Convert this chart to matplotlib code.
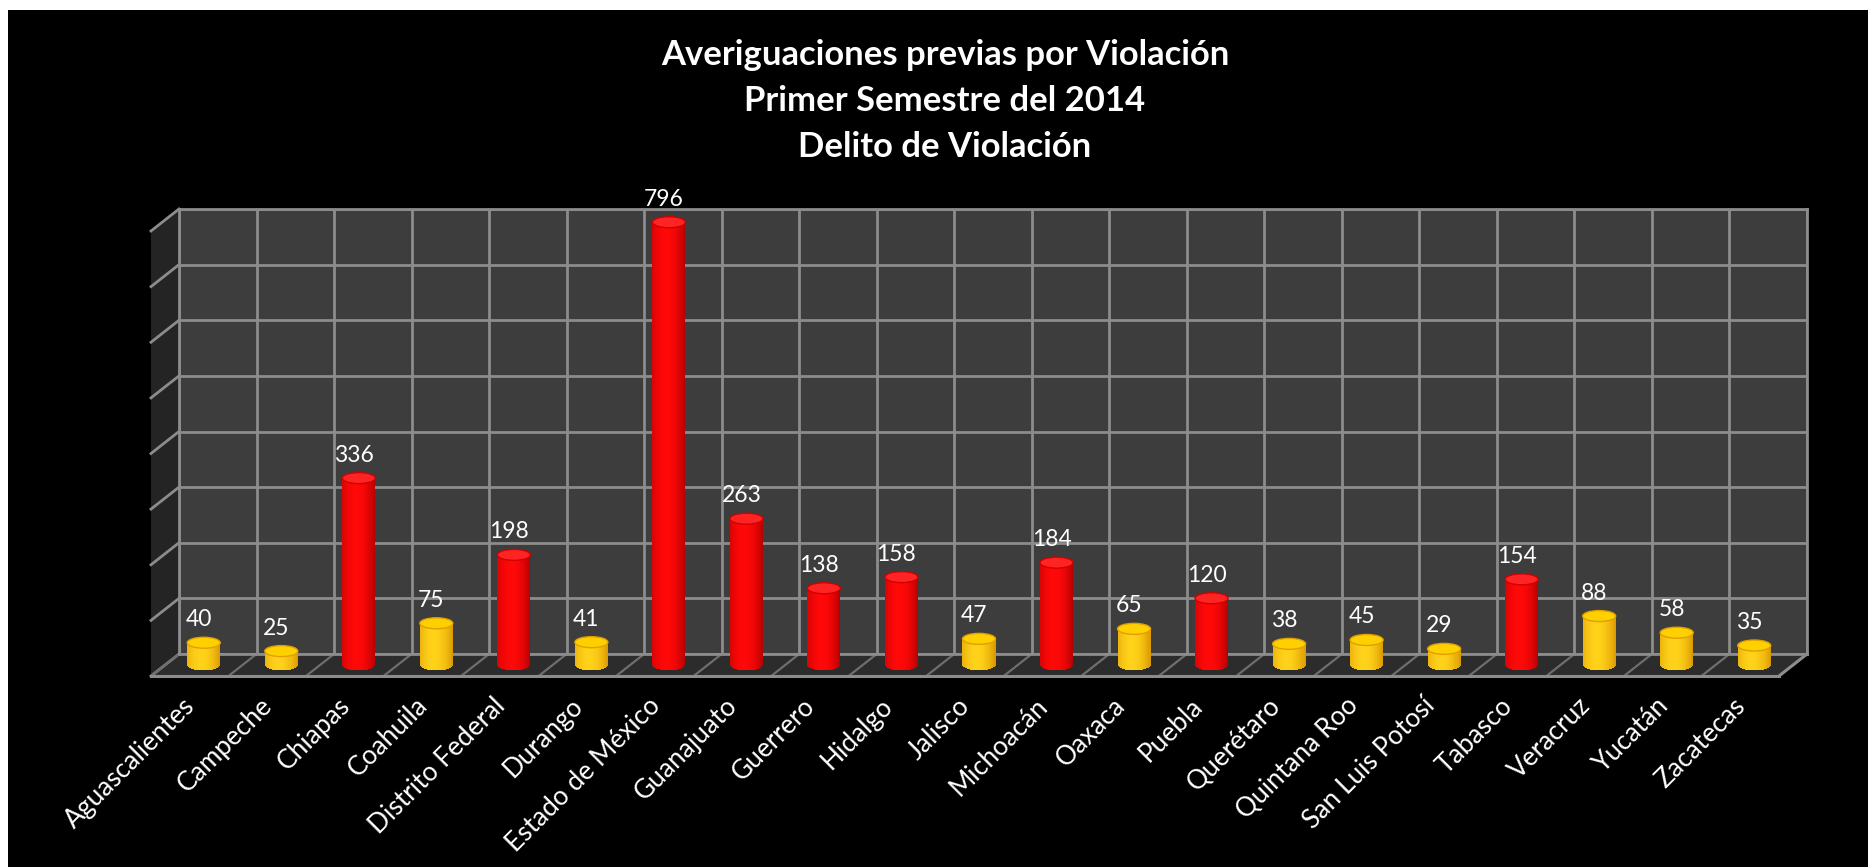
import numpy as np
import matplotlib
matplotlib.use("Agg")
import matplotlib.pyplot as plt
from matplotlib.patches import Rectangle, Polygon, Ellipse
from matplotlib.transforms import offset_copy, IdentityTransform
from matplotlib.lines import Line2D
from matplotlib.colors import to_rgb

# ---------------- data ----------------
states = ["Aguascalientes", "Campeche", "Chiapas", "Coahuila", "Distrito Federal",
          "Durango", "Estado de México", "Guanajuato", "Guerrero", "Hidalgo",
          "Jalisco", "Michoacán", "Oaxaca", "Puebla", "Querétaro", "Quintana Roo",
          "San Luis Potosí", "Tabasco", "Veracruz", "Yucatán", "Zacatecas"]
values = [40, 25, 336, 75, 198, 41, 796, 263, 138, 158, 47, 184, 65, 120, 38,
          45, 29, 154, 88, 58, 35]
title_lines = ["Averiguaciones previas por Violación",
               "Primer Semestre del 2014",
               "Delito de Violación"]
y_max = 800
y_step = 100
threshold = 100

FONT = ["Lato", "DejaVu Sans"]

# ---------------- figure ----------------
W, H, DPI = 1868, 867, 100
fig = plt.figure(figsize=(W / DPI, H / DPI), dpi=DPI, facecolor="white")
fig.patches.append(Rectangle((8 / W, 0), (W - 8) / W, (H - 10) / H,
                             transform=fig.transFigure, facecolor="black",
                             edgecolor="none", zorder=-2))

# back wall (pixels, image coordinates)
L, R, T, B = 179, 1807, 209, 654
DX, DY = -28, -22          # full depth offset (pixels, y up)
ax = fig.add_axes([L / W, (H - B) / H, (R - L) / W, (B - T) / H])
ax.set_zorder(1)
ax.set_facecolor("#3d3d3d")
n = len(states)
ax.set_xlim(-0.5, n - 0.5)
ax.set_ylim(0, y_max)
ax.set_xticks(np.arange(n + 1) - 0.5)
ax.set_yticks(np.arange(0, y_max + 1, y_step))
GRID = "#8c8c8c"
ax.grid(True, color=GRID, lw=2)
ax.set_axisbelow(True)
ax.tick_params(length=0, labelbottom=False, labelleft=False)
for s in ax.spines.values():
    s.set_color(GRID)
    s.set_linewidth(2)

renderer = fig.canvas.get_renderer()


def disp(x, y):
    return np.array(ax.transData.transform((x, y)))


off = np.array([DX, DY])

# side wall
p_bt = disp(-0.5, y_max)
p_bb = disp(-0.5, 0)
side = Polygon([p_bt, p_bb, p_bb + off, p_bt + off], closed=True,
               transform=IdentityTransform(), facecolor="#242424",
               edgecolor="none", zorder=-1)
fig.patches.append(side)
for v in np.arange(0, y_max + 1, y_step):
    p = disp(-0.5, v)
    fig.lines.append(Line2D([p[0], p[0] + DX], [p[1], p[1] + DY],
                            transform=IdentityTransform(), color=GRID, lw=2,
                            zorder=-0.5))

# floor
p_l = disp(-0.5, 0)
p_r = disp(n - 0.5, 0)
floor = Polygon([p_l, p_r, p_r + off, p_l + off], closed=True,
                transform=IdentityTransform(), facecolor="#2c2c2c",
                edgecolor="none", zorder=-1)
fig.patches.append(floor)
for k in range(n + 1):
    p = disp(k - 0.5, 0)
    fig.lines.append(Line2D([p[0], p[0] + DX], [p[1], p[1] + DY],
                            transform=IdentityTransform(), color="#6e6e6e",
                            lw=1.6, zorder=-0.5))
fig.lines.append(Line2D([p_l[0] + DX, p_r[0] + DX], [p_l[1] + DY, p_r[1] + DY],
                        transform=IdentityTransform(), color=GRID, lw=2.2,
                        zorder=-0.5))
fig.lines.append(Line2D([p_r[0], p_r[0] + DX], [p_r[1], p_r[1] + DY],
                        transform=IdentityTransform(), color=GRID, lw=2.2,
                        zorder=-0.5))

# ---------------- cylinders ----------------
px_per_unit_y = (B - T) / y_max
ehalf = 5.5 / px_per_unit_y            # ellipse half height in data units
bw = 0.426
NS = 32
edges_rel = np.linspace(-bw / 2, bw / 2, NS + 1)
cent_rel = (edges_rel[:-1] + edges_rel[1:]) / 2
tt = cent_rel / (bw / 2)
g = np.clip(np.cos((tt + 0.15) * np.pi / 2.3), 0, 1) ** 0.8

palette = {
    "red": dict(center="#ff0808", edge="#b00000", top="#ff2424", ring="#d00000"),
    "gold": dict(center="#ffd21a", edge="#d99500", top="#ffd000", ring="#e0a000"),
}

bar_tr = offset_copy(ax.transData, fig=fig, x=DX / 2, y=DY / 2, units="dots")
for i, v in enumerate(values):
    pal = palette["red"] if v > threshold else palette["gold"]
    ce, ed = np.array(to_rgb(pal["center"])), np.array(to_rgb(pal["edge"]))
    cols = [tuple(ed + (ce - ed) * gk) for gk in g]
    bottoms = -ehalf * np.sqrt(np.clip(1 - tt ** 2, 0, 1))
    ax.bar(i + cent_rel, v - bottoms, width=bw / NS * 1.05, bottom=bottoms,
           color=cols, linewidth=0, transform=bar_tr, clip_on=False, zorder=3)
    top = Ellipse((i, v), width=bw, height=2 * ehalf, transform=bar_tr,
                  facecolor=pal["top"], edgecolor=pal["ring"], lw=1.0,
                  clip_on=False, zorder=4)
    ax.add_patch(top)

# ---------------- text ----------------
def fit_size(text, target_px, **kw):
    t = fig.text(0, 0, text, fontsize=20, **kw)
    w = t.get_window_extent(renderer).width
    t.remove()
    return 20 * target_px / w


lab_tr = offset_copy(ax.transData, fig=fig, x=DX / 2 - 5, y=DY / 2 + 16.5,
                     units="dots")
for i, v in enumerate(values):
    ax.text(i, v, str(v), transform=lab_tr, ha="center", va="baseline",
            color="white", fontsize=16.5, family=FONT, zorder=5, clip_on=False)

tick_size = fit_size("Aguascalientes", 172, family=FONT)
tick_tr = offset_copy(ax.transData, fig=fig, x=DX + 10, y=DY - 17, units="dots")
for i, name in enumerate(states):
    ax.text(i, 0, name, transform=tick_tr, rotation=45, ha="right", va="top",
            color="white", fontsize=tick_size, family=FONT, clip_on=False)

title_size = fit_size(title_lines[0], 568, family=FONT, fontweight="bold")
baselines = [65, 111, 157]
for line, yb in zip(title_lines, baselines):
    fig.text(945 / W, (H - yb) / H, line, ha="center", va="baseline",
             color="white", fontsize=title_size, fontweight="bold", family=FONT)

fig.savefig("out.png", dpi=DPI, facecolor=fig.get_facecolor())
